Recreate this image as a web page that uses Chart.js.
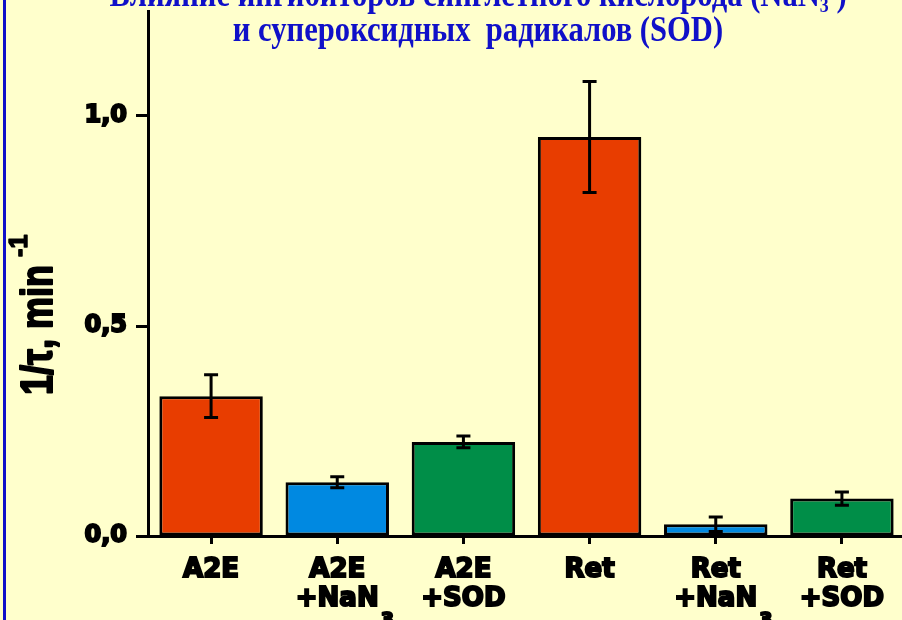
<!DOCTYPE html>
<html>
<head>
<meta charset="utf-8">
<script src="https://cdn.jsdelivr.net/npm/chart.js@4/dist/chart.umd.min.js"></script>
<style>
  html, body { margin: 0; padding: 0; background: #FFFFCC; overflow: hidden; width: 902px; height: 620px; }
  #wrap { position: relative; width: 910px; height: 620px; }
  #edge { position: absolute; left: 3px; top: 0; width: 3px; height: 620px; background: #1010C8; }
  canvas { display: block; }
</style>
</head>
<body>
<div id="wrap">
  <canvas id="chart" width="910" height="620"></canvas>
  <div id="edge"></div>
</div>
<script>
// Samples: first label line, second label line, subscript on the second line
const labelTop    = ['A2E', 'A2E', 'A2E', 'Ret', 'Ret', 'Ret'];
const labelBottom = ['', '+NaN', '+SOD', '', '+NaN', '+SOD'];
const labelSub    = ['', '3', '', '', '3', ''];

// Rate constant 1/τ (min^-1) and its error
const rates  = [0.333, 0.128, 0.224, 0.95, 0.028, 0.089];
const errors = [0.051, 0.013, 0.014, 0.132, 0.017, 0.016];

const barColors = ['#E83D00', '#0089E1', '#008E48', '#E83D00', '#0089E1', '#008E48'];

const yTickValues = [0, 0.5, 1.0];
const yTickLabels = ['0,0', '0,5', '1,0'];

const yTitleMain = '1/τ, min';
const yTitleSup  = '-1';

const titleLine1 = ['Влияние ингибиторов синглетного кислорода (NaN', '3', ' )'];
const titleLine2 = 'и супероксидных  радикалов (SOD)';

const labels = labelTop.map((t, i) => labelBottom[i] ? [t, labelBottom[i]] : [t]);

const tickFont = { family: 'DejaVu Sans', weight: 'bold', size: 26, lineHeight: 1.12 };

// Error bars with caps, centred on each bar
const errorBars = {
  id: 'errorBars',
  afterDatasetsDraw(chart) {
    const { ctx } = chart;
    const y = chart.scales.y;
    const meta = chart.getDatasetMeta(0);
    ctx.save();
    ctx.strokeStyle = '#000';
    ctx.lineWidth = 3;
    meta.data.forEach((bar, i) => {
      const cx = bar.x;
      const hi = y.getPixelForValue(rates[i] + errors[i]);
      const lo = y.getPixelForValue(rates[i] - errors[i]);
      ctx.beginPath();
      ctx.moveTo(cx, hi); ctx.lineTo(cx, lo);
      ctx.moveTo(cx - 7, hi); ctx.lineTo(cx + 7, hi);
      ctx.moveTo(cx - 7, lo); ctx.lineTo(cx + 7, lo);
      ctx.stroke();
    });
    ctx.restore();
  }
};

// Subscripts after the second label line, axis title and heading
const textExtras = {
  id: 'textExtras',
  afterDraw(chart) {
    const { ctx } = chart;
    const x = chart.scales.x;

    // subscript "3" of NaN3
    ctx.save();
    ctx.fillStyle = '#000';
    ctx.strokeStyle = '#000';
    ctx.lineWidth = 2;
    ctx.lineJoin = 'round';
    labelSub.forEach((s, i) => {
      if (!s) return;
      ctx.font = 'bold 26px "DejaVu Sans"';
      const w = ctx.measureText(labelBottom[i]).width;
      const px = x.getPixelForValue(i) + w / 2 + 2;
      ctx.font = 'bold 19px "DejaVu Sans"';
      ctx.textAlign = 'left';
      ctx.textBaseline = 'alphabetic';
      ctx.fillText(s, px, 626);
      ctx.strokeText(s, px, 626);
    });
    ctx.restore();

    // rotated axis title with superscript
    ctx.save();
    ctx.translate(53, 395);
    ctx.rotate(-Math.PI / 2);
    ctx.fillStyle = '#000';
    ctx.strokeStyle = '#000';
    ctx.lineJoin = 'round';
    ctx.textBaseline = 'alphabetic';
    ctx.textAlign = 'left';
    ctx.font = 'bold 45px "Liberation Sans"';
    const sx = 0.8;
    const mw = ctx.measureText(yTitleMain).width * sx;
    ctx.save();
    ctx.scale(sx, 1);
    ctx.lineWidth = 2;
    ctx.fillText(yTitleMain, 0, -1);
    ctx.strokeText(yTitleMain, 0, -1);
    ctx.restore();
    ctx.font = 'bold 25px "Liberation Sans"';
    ctx.lineWidth = 1.5;
    ctx.fillText(yTitleSup, mw + 8, -26);
    ctx.strokeText(yTitleSup, mw + 8, -26);
    ctx.restore();

    // heading
    ctx.save();
    ctx.fillStyle = '#1010C8';
    ctx.textBaseline = 'alphabetic';
    ctx.textAlign = 'left';
    const hs = 0.85;
    const big = 'bold 36px "Liberation Serif"';
    const small = 'bold 21px "Liberation Serif"';
    const cx = 478;

    ctx.font = big;
    const w2 = ctx.measureText(titleLine2).width * hs;
    ctx.save();
    ctx.translate(cx - w2 / 2, 41);
    ctx.scale(hs, 1);
    ctx.fillText(titleLine2, 0, 0);
    ctx.restore();

    ctx.font = big;
    const wa = ctx.measureText(titleLine1[0]).width;
    const wc = ctx.measureText(titleLine1[2]).width;
    ctx.font = small;
    const wb = ctx.measureText(titleLine1[1]).width;
    const w1 = (wa + wb + wc) * hs;
    ctx.save();
    ctx.translate(cx - w1 / 2, 6);
    ctx.scale(hs, 1);
    ctx.font = big;
    ctx.fillText(titleLine1[0], 0, 0);
    ctx.font = small;
    ctx.fillText(titleLine1[1], wa, 6);
    ctx.font = big;
    ctx.fillText(titleLine1[2], wa + wb, 0);
    ctx.restore();
    ctx.restore();
  }
};

new Chart(document.getElementById('chart'), {
  type: 'bar',
  data: {
    labels: labels,
    datasets: [{
      data: rates,
      backgroundColor: barColors,
      borderColor: '#000',
      borderWidth: 3,
      borderSkipped: false,
      barPercentage: 0.82,
      categoryPercentage: 1
    }]
  },
  options: {
    responsive: false,
    animation: false,
    devicePixelRatio: 1,
    layout: { padding: { top: 11, right: 5, bottom: 0, left: 0 } },
    plugins: {
      legend: { display: false },
      title: { display: false },
      tooltip: { enabled: false }
    },
    scales: {
      x: {
        grid: {
          display: true, drawOnChartArea: false, offset: false,
          tickLength: 8, tickWidth: 3, tickColor: '#000'
        },
        border: { display: true, color: '#000', width: 3 },
        ticks: {
          color: '#000', font: tickFont, padding: 12,
          textStrokeColor: '#000', textStrokeWidth: 2,
          maxRotation: 0, autoSkip: false
        },
        afterFit: s => { s.height = 84; s.paddingLeft = 0; s.paddingRight = 0; }
      },
      y: {
        min: 0,
        max: 1.25,
        afterBuildTicks: s => { s.ticks = yTickValues.map(v => ({ value: v })); },
        grid: {
          display: true, drawOnChartArea: false,
          tickLength: 12, tickWidth: 3, tickColor: '#000'
        },
        border: { display: true, color: '#000', width: 3 },
        ticks: {
          color: '#000',
          font: { family: 'DejaVu Sans', weight: 'bold', size: 24 },
          padding: 9,
          textStrokeColor: '#000', textStrokeWidth: 2,
          callback: (v, i) => yTickLabels[i]
        },
        afterFit: s => { s.width = 148; s.paddingTop = 0; s.paddingBottom = 0; }
      }
    }
  },
  plugins: [errorBars, textExtras]
});
</script>
</body>
</html>
